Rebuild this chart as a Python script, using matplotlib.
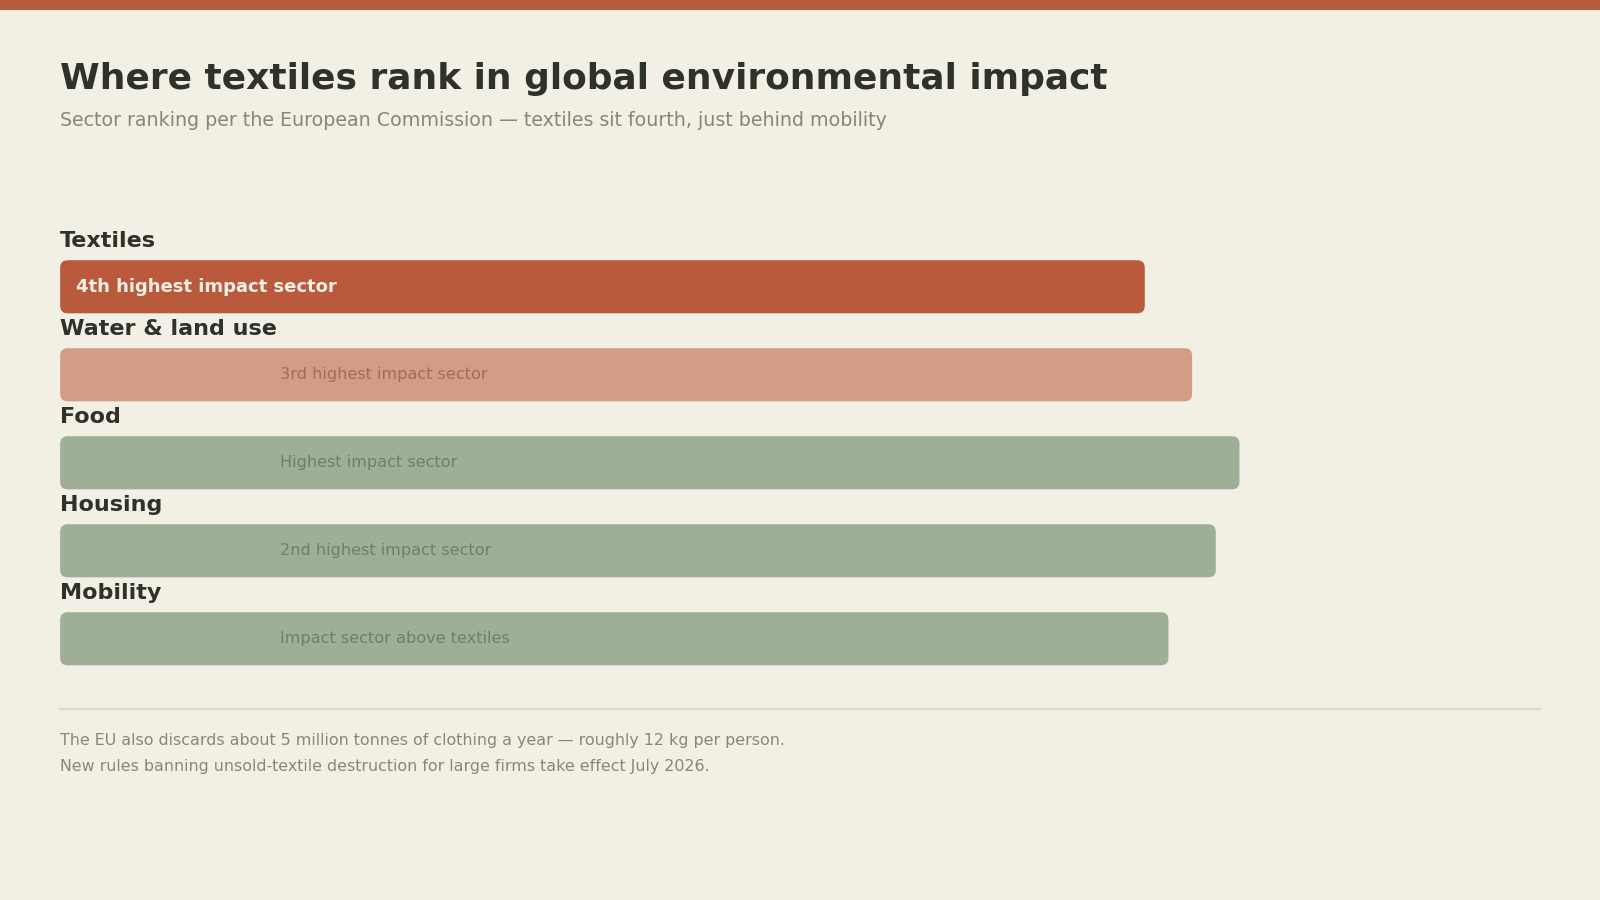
import matplotlib.pyplot as plt
from matplotlib.patches import FancyBboxPatch, Rectangle

plt.rcParams["font.family"] = ["DejaVu Sans"]

# data
sectors = ["Textiles", "Water & land use", "Food", "Housing", "Mobility"]
impact = [73.3, 76.5, 79.7, 78.1, 74.9]  # bar length, % of track
notes = ["4th highest impact sector", "3rd highest impact sector",
         "Highest impact sector", "2nd highest impact sector",
         "Impact sector above textiles"]

BG = "#F2EFE4"
RUST = "#B85A3B"
SALMON = "#D39C85"
SAGE = "#9FAF97"
DARK = "#2F3229"
GREY = "#8A8677"

bar_colors = [RUST, SALMON, SAGE, SAGE, SAGE]
note_colors = ["#F7EFE6", "#A96A53", "#6F7F69", "#6F7F69", "#6F7F69"]

fig = plt.figure(figsize=(16, 9), dpi=100, facecolor=BG)

# top stripe
fig.add_artist(Rectangle((0, 1 - 9.5 / 900), 1, 9.5 / 900, transform=fig.transFigure,
                         facecolor=RUST, edgecolor="none"))

fig.text(0.0376, 1 - 78.5 / 900, "Where textiles rank in global environmental impact",
         fontsize=25.9, fontweight="bold", color=DARK, va="center", ha="left")
fig.text(0.0376, 1 - 120 / 900,
         "Sector ranking per the European Commission — textiles sit fourth, just behind mobility",
         fontsize=13.7, color=GREY, va="center", ha="left")

# bars
ax = fig.add_axes([0.0376, 0.2290, 0.9248, 0.5442])
ax.set_facecolor(BG)
ax.set_xlim(0, 100)
ax.set_ylim(4.626, -0.939)
ax.axis("off")

h = 0.603
px_x = 0.9248 * 1600 / 100
px_y = 0.5442 * 900 / (4.626 + 0.939)
r = 7.5 / px_x
for i, (name, val, note) in enumerate(zip(sectors, impact, notes)):
    ax.add_patch(FancyBboxPatch((0, i - h / 2), val, h,
                                boxstyle=f"round,pad=0,rounding_size={r}",
                                mutation_aspect=px_x / px_y,
                                facecolor=bar_colors[i], edgecolor="none"))
    ax.text(0, i - 0.52, name, fontsize=16, fontweight="bold", color=DARK,
            va="center", ha="left")
    if i == 0:
        ax.text(1.1, i, note, fontsize=13, fontweight="bold", color=note_colors[i],
                va="center", ha="left")
    else:
        ax.text(14.83, i, note, fontsize=11.6, color=note_colors[i],
                va="center", ha="left")

# footer
fig.add_artist(plt.Line2D([0.0376, 0.9624], [1 - 709 / 900, 1 - 709 / 900],
                          transform=fig.transFigure, color="#DCD9C6", lw=1.5))
fig.text(0.0376, 1 - 740 / 900,
         "The EU also discards about 5 million tonnes of clothing a year — roughly 12 kg per person.",
         fontsize=11.45, color=GREY, va="center", ha="left")
fig.text(0.0376, 1 - 766.5 / 900,
         "New rules banning unsold-textile destruction for large firms take effect July 2026.",
         fontsize=11.45, color=GREY, va="center", ha="left")

plt.savefig("out.png", dpi=100, facecolor=BG)
